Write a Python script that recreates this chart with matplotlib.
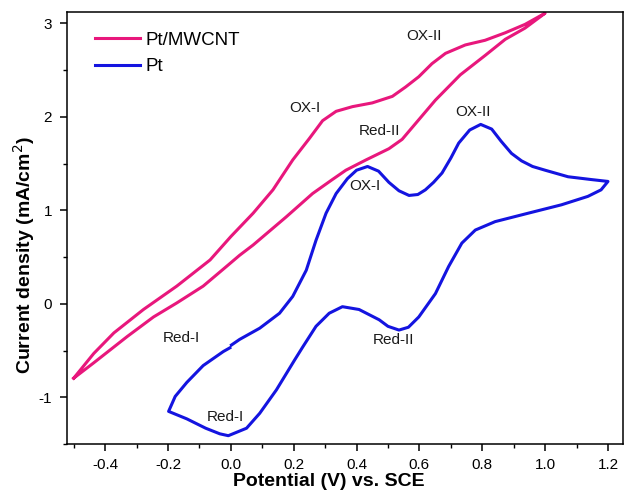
import matplotlib.pyplot as plt
from matplotlib.ticker import MultipleLocator

plt.rcParams['font.family'] = ['Liberation Sans', 'DejaVu Sans']

# Pt/MWCNT cyclic voltammogram: forward scan then reverse scan
mwcnt_x = [-0.50, -0.436, -0.372, -0.278, -0.172, -0.066, 0.0, 0.071, 0.134, 0.197,
           0.25, 0.292, 0.335, 0.387, 0.45, 0.514, 0.556, 0.598, 0.64, 0.683, 0.746,
           0.809, 0.873, 0.936, 1.00,
           0.936, 0.873, 0.81, 0.73, 0.651, 0.598, 0.545, 0.503, 0.43, 0.366, 0.323,
           0.26, 0.176, 0.071, 0.028, -0.014, -0.088, -0.172, -0.246, -0.33, -0.436,
           -0.50]
mwcnt_y = [-0.795, -0.53, -0.31, -0.06, 0.19, 0.47, 0.72, 0.97, 1.22, 1.54,
           1.77, 1.96, 2.06, 2.11, 2.15, 2.22, 2.32, 2.43, 2.57, 2.68, 2.77,
           2.82, 2.90, 2.99, 3.11,
           2.95, 2.83, 2.66, 2.45, 2.18, 1.97, 1.76, 1.66, 1.54, 1.43, 1.33,
           1.18, 0.93, 0.63, 0.52, 0.40, 0.19, 0.01, -0.14, -0.35, -0.63,
           -0.795]

# bare Pt
pt_x = [0.002, 0.028, 0.092, 0.155, 0.197, 0.24, 0.271, 0.303, 0.335, 0.371, 0.40,
        0.435, 0.47, 0.503, 0.535, 0.567, 0.595, 0.619, 0.645, 0.672, 0.70, 0.725,
        0.76, 0.795, 0.83, 0.86, 0.893, 0.925, 0.96, 1.00, 1.073, 1.147, 1.20,
        1.178, 1.136, 1.052, 0.946, 0.841, 0.778, 0.735, 0.693, 0.651, 0.598, 0.565,
        0.535, 0.50, 0.472, 0.408, 0.355, 0.313, 0.271, 0.229, 0.203, 0.145, 0.092,
        0.05, -0.008, -0.035, -0.08, -0.14, -0.198,
        -0.177, -0.14, -0.088, -0.024, -0.003]
pt_y = [-0.44, -0.38, -0.26, -0.10, 0.08, 0.36, 0.68, 0.97, 1.18, 1.34, 1.43,
        1.47, 1.42, 1.30, 1.21, 1.16, 1.17, 1.22, 1.30, 1.40, 1.56, 1.72,
        1.86, 1.92, 1.87, 1.74, 1.61, 1.53, 1.47, 1.43, 1.36, 1.33, 1.31,
        1.22, 1.15, 1.06, 0.97, 0.88, 0.79, 0.65, 0.40, 0.11, -0.14, -0.25,
        -0.28, -0.24, -0.17, -0.06, -0.03, -0.10, -0.24, -0.46, -0.60, -0.92, -1.17,
        -1.33, -1.41, -1.39, -1.33, -1.23, -1.15,
        -0.99, -0.84, -0.66, -0.51, -0.47]

peak_labels = ['OX-I', 'OX-II', 'Red-II', 'Red-I',
               'OX-I', 'OX-II', 'Red-II', 'Red-I']
peak_x = [0.237, 0.614, 0.472, -0.158, 0.426, 0.772, 0.516, -0.016]
peak_y = [2.10, 2.87, 1.85, -0.36, 1.26, 2.05, -0.385, -1.21]

fig = plt.figure(figsize=(6.24, 4.94), dpi=100)
ax = fig.add_axes([0.108, 0.101, 0.890, 0.875])

ax.plot(mwcnt_x, mwcnt_y, color='#e8177c', lw=2.2, label='Pt/MWCNT',
        solid_joinstyle='round')
ax.plot(pt_x, pt_y, color='#1414e0', lw=2.2, label='Pt', solid_joinstyle='round')

for t, x, y in zip(peak_labels, peak_x, peak_y):
    ax.text(x, y, t, fontsize=11, ha='center', va='center', color='#1a1a1a')

ax.set_xlim(-0.52, 1.247)
ax.set_ylim(-1.5, 3.124)
ax.xaxis.set_minor_locator(MultipleLocator(0.1))
ax.yaxis.set_minor_locator(MultipleLocator(0.5))
ax.set_xticks([-0.4, -0.2, 0.0, 0.2, 0.4, 0.6, 0.8, 1.0, 1.2])
ax.set_xticklabels(['-0.4', '-0.2', '0.0', '0.2', '0.4', '0.6', '0.8', '1.0', '1.2'])
ax.set_yticks([-1, 0, 1, 2, 3])
ax.set_yticklabels(['-1', '0', '1', '2', '3'])
ax.tick_params(which='major', direction='out', length=5, width=1.1, labelsize=11)
ax.tick_params(axis='x', which='major', pad=5)
ax.tick_params(axis='y', which='major', pad=6)
ax.tick_params(which='minor', direction='out', length=3, width=1.0)
for s in ax.spines.values():
    s.set_linewidth(1.1)

ax.set_xlabel('Potential (V) vs. SCE', fontsize=14, fontweight='bold')
ax.set_ylabel('Current density (mA/cm$^2$)', fontsize=14, fontweight='bold')
ax.xaxis.set_label_coords(0.47, -0.067)
ax.yaxis.set_label_coords(-0.055, 0.437)

ax.legend(loc='upper left', frameon=False, fontsize=13.5, handlelength=2.4,
          handletextpad=0.3, labelspacing=0.5, borderaxespad=0.5,
          bbox_to_anchor=(0.02, 0.993))

fig.savefig('out.png', dpi=100)
